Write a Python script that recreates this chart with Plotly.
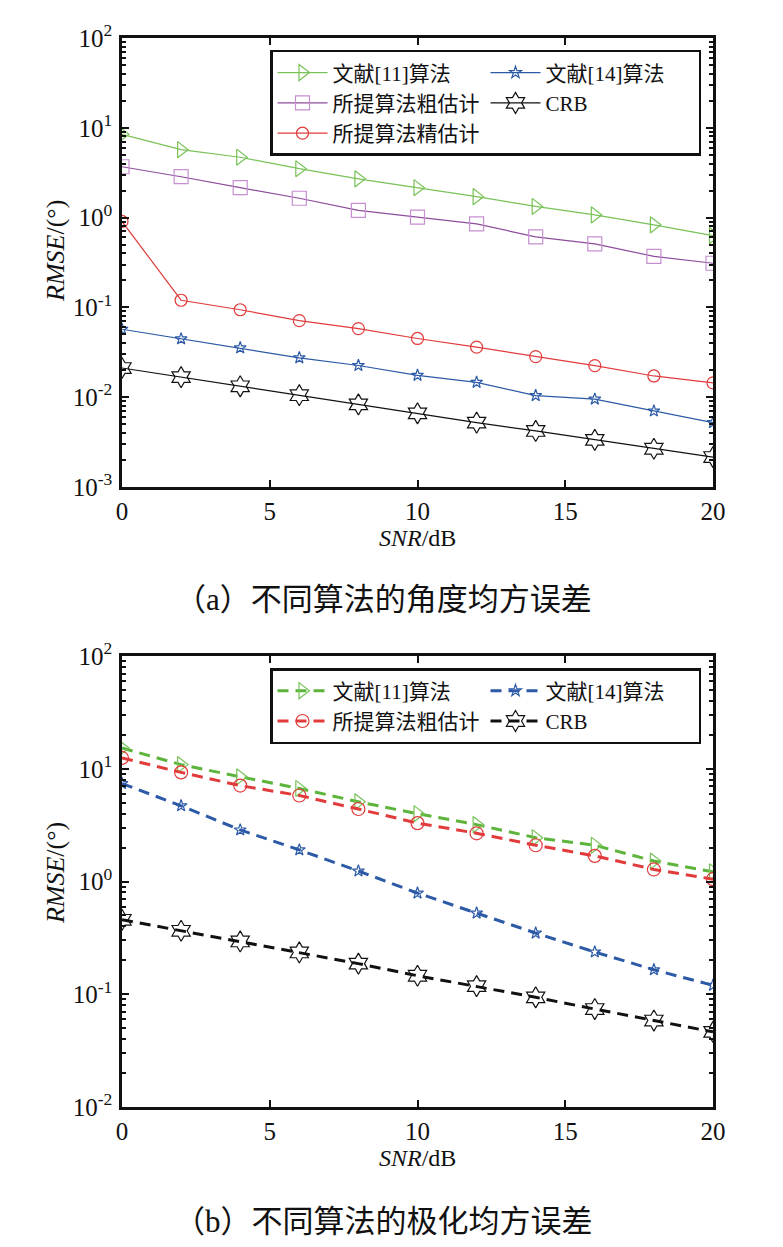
import numpy as np
import plotly.graph_objects as go

W, H = 783, 1247
PAD = 8  # default page margin around the plot div

snr = [0, 2, 4, 6, 8, 10, 12, 14, 16, 18, 20]

# (a) angle RMSE
a_ref11 = [8.45, 5.7, 4.7, 3.5, 2.7, 2.15, 1.71, 1.33, 1.07, 0.83, 0.63]
a_coarse = [3.68, 2.85, 2.15, 1.64, 1.2, 1.01, 0.85, 0.61, 0.51, 0.37, 0.31]
a_fine = [0.905, 0.12, 0.094, 0.071, 0.058, 0.045, 0.036, 0.0283, 0.0224, 0.0172, 0.0144]
a_ref14 = [0.057, 0.0445, 0.0354, 0.0274, 0.0225, 0.0175, 0.0146, 0.0104, 0.0095, 0.0070, 0.0052]
a_crb = [0.0211, 0.0167, 0.0132, 0.0105, 0.0083, 0.0066, 0.0052, 0.0042, 0.00334, 0.00266, 0.00215]

# (b) polarization RMSE
b_ref11 = [15.3, 10.9, 8.5, 6.7, 5.1, 4.0, 3.2, 2.45, 2.1, 1.52, 1.22]
b_coarse = [12.5, 9.3, 7.1, 5.8, 4.4, 3.3, 2.68, 2.1, 1.69, 1.28, 1.05]
b_ref14 = [7.4, 4.7, 2.87, 1.91, 1.24, 0.79, 0.525, 0.349, 0.237, 0.165, 0.12]
b_crb = [0.458, 0.366, 0.294, 0.235, 0.187, 0.146, 0.118, 0.094, 0.074, 0.0585, 0.0464]

names = ["文献[11]算法", "文献[14]算法", "所提算法粗估计", "CRB", "所提算法精估计"]
captions = ["（a）不同算法的角度均方误差", "（b）不同算法的极化均方误差"]

# pixel geometry of the two panels (page coordinates)
L, R = 122, 713
T1, B1 = 33, 484
T2, B2 = 654, 1107
TOP, BOT = T1, B2
ph = BOT - TOP


def py(y):
    return 1 - (y - TOP) / ph


def px(x):
    return (x - L) / (R - L)


SERIF = "Liberation Serif, Noto Sans CJK SC"
GREEN, GREEN_M = "#78c257", "#78c257"
PURPLE, PURPLE_M = "#8d4d9c", "#c58fd0"
RED = "#e23b3b"
BLUE = "#2c5aa6"
BLACK = "#111111"

fig = go.Figure()


def add(y, name, color, symbol, size, mcolor=None, axes=("x", "y"), legend="legend",
        dash="solid", width=1.2):
    fig.add_trace(go.Scatter(
        x=snr, y=y, name=name, mode="lines+markers",
        line=dict(color=color, width=width, dash=dash),
        marker=dict(symbol=symbol, size=size, color=mcolor or color,
                    line=dict(width=1.2)),
        xaxis=axes[0], yaxis=axes[1], legend=legend,
    ))


add(a_ref11, names[0], GREEN, "triangle-right-open", 14)
add(a_ref14, names[1], BLUE, "star-open", 9)
add(a_coarse, names[2], PURPLE, "square-open", 14, mcolor=PURPLE_M)
add(a_crb, names[3], BLACK, "hexagram-open", 16)
add(a_fine, names[4], RED, "circle-open", 12)

dsh = "11px,7px"
b_axes = ("x2", "y2")
add(b_ref11, names[0], "#5db43a", "triangle-right-open", 14, mcolor="#78c257",
    axes=b_axes, legend="legend2", dash=dsh, width=3)
add(b_ref14, names[1], BLUE, "star-open", 9, axes=b_axes, legend="legend2", dash=dsh, width=3)
add(b_coarse, names[2], RED, "circle-open", 13, axes=b_axes, legend="legend2", dash=dsh, width=3)
add(b_crb, names[3], BLACK, "hexagram-open", 16, axes=b_axes, legend="legend2", dash=dsh, width=3)


def minor_vals(lo, hi):
    return [m * 10.0 ** e for e in range(lo, hi) for m in range(2, 10)]


def yax(dom, lo, hi, anchor):
    vals = [10.0 ** e for e in range(lo, hi + 1)]
    txt = ["10<sup>%d</sup>" % e for e in range(lo, hi + 1)]
    return dict(
        type="log", domain=dom, range=[lo, hi], tickmode="array",
        tickvals=vals, ticktext=txt, ticks="inside", ticklen=7,
        tickwidth=2, tickcolor=BLACK, showline=True, linewidth=2.5,
        linecolor=BLACK, mirror="ticks", showgrid=False, zeroline=False,
        anchor=anchor, ticklabelstandoff=2,
        tickfont=dict(family="Liberation Serif", size=25, color=BLACK),
        minor=dict(tickmode="array", tickvals=minor_vals(lo, hi),
                   ticks="inside", ticklen=4, tickwidth=1.5, tickcolor=BLACK,
                   showgrid=False),
    )


def xax(anchor):
    return dict(
        range=[0, 20], tickmode="array", tickvals=[0, 5, 10, 15, 20],
        ticks="inside", ticklen=7, tickwidth=2, tickcolor=BLACK,
        showline=True, linewidth=2.5, linecolor=BLACK, mirror="ticks",
        showgrid=False, zeroline=False, anchor=anchor, domain=[0, 1],
        tickfont=dict(family="Liberation Serif", size=25, color=BLACK),
    )


def legend(ytop):
    return dict(
        x=px(270), y=py(ytop), xanchor="left", yanchor="top",
        orientation="h", entrywidth=148, itemwidth=50,
        font=dict(family=SERIF, size=21, color=BLACK),
        bgcolor="white", bordercolor=BLACK, borderwidth=2.5,
        tracegroupgap=0,
    )


fig.update_layout(
    width=W - 2 * PAD, height=H - 2 * PAD,
    plot_bgcolor="white", paper_bgcolor="white",
    margin=dict(l=L - PAD, r=W - R - PAD, t=TOP - PAD, b=H - BOT - PAD),
    xaxis=xax("y"), xaxis2=xax("y2"),
    yaxis=yax([py(B1), 1], -3, 2, "x"),
    yaxis2=yax([0, py(T2)], -2, 2, "x2"),
    legend=legend(45), legend2=legend(666),
    font=dict(family=SERIF, color=BLACK),
)

ann = []
for (t, b, cap, cy, yt) in [(T1, B1, captions[0], 597, 247), (T2, B2, captions[1], 1222, 872)]:
    ann.append(dict(text="<i>RMSE</i>/(°)", x=55, y=yt, textangle=-90, size=26))
    ann.append(dict(text="<i>SNR</i>/dB", x=(L + R) / 2, y=b + 51))
    ann.append(dict(text=cap, x=383, y=cy, size=31))
for a in ann:
    fig.add_annotation(
        text=a["text"], xref="paper", yref="paper",
        x=px(a["x"]), y=py(a["y"]), showarrow=False,
        xanchor="center", yanchor="middle", textangle=a.get("textangle", 0),
        font=dict(family=SERIF, size=a.get("size", 24), color=BLACK),
    )

fig.write_html("out.html")
